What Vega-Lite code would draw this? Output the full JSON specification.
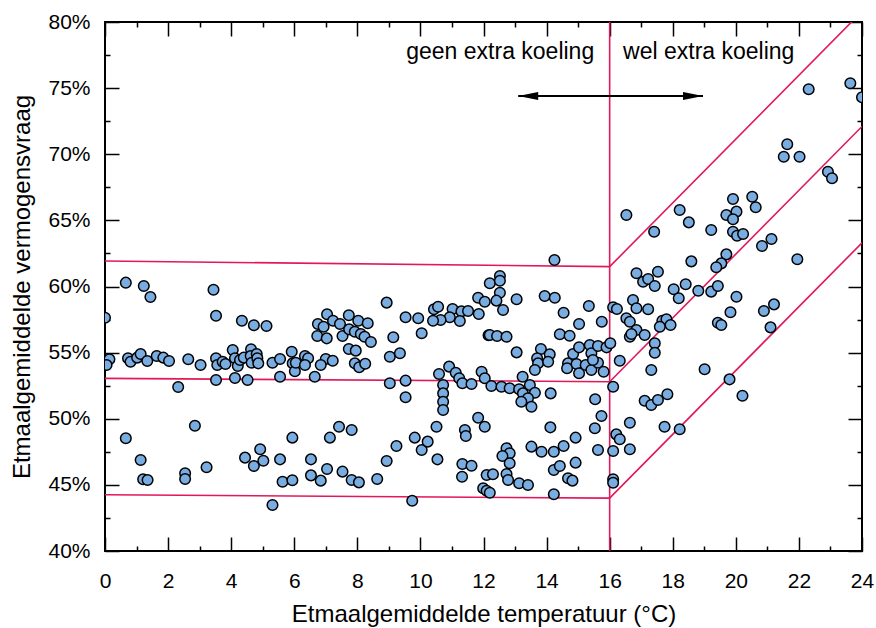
{
  "$schema": "https://vega.github.io/schema/vega-lite/v6.json",
  "width": 757,
  "height": 529,
  "autosize": {"type": "none"},
  "padding": {"left": 105, "top": 22, "right": 14, "bottom": 77},
  "background": "white",
  "config": {
    "view": {"stroke": "black", "strokeWidth": 2},
    "font": "Liberation Sans",
    "axis": {
      "grid": false, "domain": false,
      "labelFont": "Liberation Sans", "titleFont": "Liberation Sans",
      "labelColor": "black", "titleColor": "black", "tickColor": "black",
      "tickWidth": 1.5, "titleFontWeight": "normal",
      "labelFontSize": 21, "titleFontSize": 24
    }
  },
  "datasets": {
    "punten": [
      {"t":0.66,"v":60.29},{"t":1.23,"v":60.04},{"t":1.44,"v":59.21},{"t":3.44,"v":59.76},{"t":3.52,"v":57.79},
      {"t":4.34,"v":57.41},{"t":4.72,"v":57.07},{"t":5.12,"v":57.01},{"t":0.0,"v":57.64},{"t":0.14,"v":54.5},
      {"t":0.05,"v":54.06},{"t":0.73,"v":54.57},{"t":0.81,"v":54.31},{"t":1.02,"v":54.62},{"t":1.13,"v":54.9},
      {"t":1.34,"v":54.37},{"t":1.64,"v":54.74},{"t":1.85,"v":54.62},{"t":2.03,"v":54.37},{"t":2.64,"v":54.5},
      {"t":3.03,"v":54.06},{"t":3.52,"v":54.57},{"t":3.56,"v":54.06},{"t":3.73,"v":54.31},{"t":3.82,"v":54.14},
      {"t":4.05,"v":55.2},{"t":4.12,"v":54.57},{"t":4.21,"v":53.99},{"t":4.28,"v":54.44},{"t":4.4,"v":54.62},
      {"t":4.63,"v":55.25},{"t":4.62,"v":54.74},{"t":4.65,"v":54.24},{"t":4.81,"v":54.9},{"t":4.83,"v":54.57},
      {"t":4.86,"v":54.19},{"t":5.31,"v":54.24},{"t":5.55,"v":54.52},{"t":5.92,"v":55.07},{"t":5.95,"v":54.19},
      {"t":6.02,"v":53.59},{"t":6.05,"v":54.24},{"t":3.52,"v":52.93},{"t":4.12,"v":53.08},{"t":4.52,"v":52.93},
      {"t":5.55,"v":53.18},{"t":2.32,"v":52.4},{"t":2.85,"v":49.47},{"t":0.66,"v":48.52},{"t":1.13,"v":46.88},
      {"t":1.21,"v":45.42},{"t":1.35,"v":45.37},{"t":2.54,"v":45.88},{"t":2.54,"v":45.45},{"t":3.22,"v":46.33},
      {"t":4.44,"v":47.06},{"t":4.92,"v":47.69},{"t":4.72,"v":46.43},{"t":5.02,"v":46.83},{"t":5.55,"v":46.93},
      {"t":5.94,"v":48.57},{"t":5.63,"v":45.24},{"t":5.94,"v":45.35},{"t":5.31,"v":43.48},{"t":8.93,"v":58.78},
      {"t":11.83,"v":59.15},{"t":12.04,"v":58.85},{"t":12.2,"v":60.24},{"t":10.43,"v":58.28},{"t":10.56,"v":58.47},
      {"t":11.02,"v":58.3},{"t":11.3,"v":58.12},{"t":11.51,"v":58.15},{"t":11.85,"v":57.92},{"t":11.25,"v":57.39},
      {"t":10.93,"v":57.67},{"t":10.64,"v":57.47},{"t":10.4,"v":57.41},{"t":9.53,"v":57.67},{"t":9.93,"v":57.6},
      {"t":10.04,"v":56.46},{"t":9.14,"v":56.16},{"t":12.16,"v":56.31},{"t":9.03,"v":54.69},{"t":9.35,"v":54.95},
      {"t":6.75,"v":57.16},{"t":6.93,"v":56.96},{"t":7.04,"v":57.9},{"t":7.23,"v":57.41},{"t":7.45,"v":57.16},
      {"t":7.73,"v":57.82},{"t":8.03,"v":57.41},{"t":8.33,"v":57.22},{"t":6.73,"v":56.26},{"t":7.03,"v":56.08},
      {"t":7.53,"v":56.26},{"t":7.74,"v":56.76},{"t":7.92,"v":56.58},{"t":8.11,"v":56.41},{"t":8.23,"v":56.2},
      {"t":8.43,"v":55.8},{"t":7.73,"v":55.27},{"t":7.95,"v":55.15},{"t":7.92,"v":54.19},{"t":8.06,"v":53.89},
      {"t":8.25,"v":54.16},{"t":7.0,"v":54.52},{"t":7.22,"v":54.39},{"t":6.84,"v":54.06},{"t":6.65,"v":53.18},
      {"t":6.34,"v":54.74},{"t":6.44,"v":54.57},{"t":6.34,"v":54.06},{"t":9.03,"v":52.68},{"t":9.53,"v":52.88},
      {"t":9.53,"v":51.62},{"t":10.59,"v":53.38},{"t":10.91,"v":53.94},{"t":11.12,"v":53.48},{"t":11.23,"v":53.06},
      {"t":11.33,"v":52.68},{"t":11.62,"v":52.63},{"t":11.94,"v":53.56},{"t":12.04,"v":53.06},{"t":10.72,"v":52.55},
      {"t":10.72,"v":51.92},{"t":10.72,"v":51.29},{"t":10.72,"v":50.66},{"t":11.83,"v":50.08},{"t":12.04,"v":49.4},
      {"t":7.42,"v":49.4},{"t":7.82,"v":49.15},{"t":10.51,"v":49.4},{"t":11.41,"v":49.15},{"t":6.53,"v":46.93},
      {"t":6.53,"v":45.72},{"t":6.84,"v":45.32},{"t":7.04,"v":46.2},{"t":7.13,"v":48.57},{"t":7.53,"v":46.0},
      {"t":7.82,"v":45.37},{"t":8.05,"v":45.19},{"t":8.63,"v":45.44},{"t":8.93,"v":46.81},{"t":9.24,"v":47.94},
      {"t":9.82,"v":48.57},{"t":10.04,"v":47.64},{"t":10.23,"v":48.27},{"t":10.54,"v":46.93},{"t":9.74,"v":43.8},
      {"t":11.44,"v":48.7},{"t":11.33,"v":46.58},{"t":11.62,"v":46.45},{"t":11.32,"v":45.62},{"t":14.25,"v":62.0},
      {"t":17.41,"v":64.14},{"t":12.52,"v":60.79},{"t":12.52,"v":60.44},{"t":12.52,"v":59.53},{"t":12.41,"v":58.93},
      {"t":12.62,"v":58.22},{"t":13.05,"v":59.03},{"t":13.94,"v":59.28},{"t":14.26,"v":59.15},{"t":14.54,"v":58.02},
      {"t":15.34,"v":58.53},{"t":15.03,"v":57.16},{"t":15.75,"v":57.34},{"t":16.11,"v":58.43},{"t":16.23,"v":58.3},
      {"t":12.2,"v":56.33},{"t":12.43,"v":56.26},{"t":12.73,"v":56.2},{"t":13.05,"v":55.02},{"t":14.42,"v":56.39},
      {"t":14.73,"v":56.28},{"t":13.82,"v":55.27},{"t":14.1,"v":54.87},{"t":13.7,"v":54.57},{"t":13.73,"v":54.19},
      {"t":14.05,"v":54.31},{"t":13.63,"v":53.69},{"t":14.84,"v":54.9},{"t":15.03,"v":55.4},{"t":15.37,"v":55.58},
      {"t":15.42,"v":54.95},{"t":15.63,"v":55.5},{"t":15.9,"v":55.4},{"t":16.02,"v":55.71},{"t":14.68,"v":54.19},
      {"t":14.65,"v":53.82},{"t":14.95,"v":54.14},{"t":15.03,"v":53.44},{"t":15.24,"v":54.06},{"t":15.42,"v":53.69},
      {"t":15.63,"v":54.24},{"t":15.81,"v":53.56},{"t":15.47,"v":54.44},{"t":12.25,"v":52.48},{"t":12.57,"v":52.42},
      {"t":12.83,"v":52.3},{"t":13.24,"v":53.18},{"t":13.13,"v":52.23},{"t":13.47,"v":52.55},{"t":13.25,"v":51.92},
      {"t":13.63,"v":51.97},{"t":13.41,"v":51.55},{"t":13.2,"v":51.29},{"t":13.52,"v":50.91},{"t":14.13,"v":51.92},
      {"t":16.32,"v":54.39},{"t":16.11,"v":52.42},{"t":15.54,"v":51.47},{"t":15.74,"v":50.21},{"t":14.12,"v":49.35},
      {"t":15.53,"v":49.28},{"t":16.85,"v":61.0},{"t":17.06,"v":60.36},{"t":17.22,"v":60.57},{"t":17.53,"v":61.12},
      {"t":17.43,"v":60.04},{"t":18.03,"v":59.79},{"t":18.19,"v":59.11},{"t":16.74,"v":58.98},{"t":16.85,"v":58.35},
      {"t":17.22,"v":58.28},{"t":16.53,"v":57.6},{"t":16.64,"v":57.34},{"t":16.85,"v":56.71},{"t":16.64,"v":56.2},
      {"t":17.11,"v":56.33},{"t":17.43,"v":55.71},{"t":17.43,"v":54.99},{"t":17.67,"v":57.41},{"t":17.8,"v":57.52},
      {"t":17.93,"v":57.09},{"t":17.59,"v":56.96},{"t":17.32,"v":53.69},{"t":16.64,"v":49.7},{"t":17.11,"v":51.36},
      {"t":17.32,"v":51.04},{"t":17.53,"v":51.42},{"t":17.83,"v":51.85},{"t":17.74,"v":49.4},{"t":16.69,"v":56.41},
      {"t":14.92,"v":48.57},{"t":13.52,"v":47.89},{"t":13.84,"v":47.51},{"t":14.23,"v":47.51},{"t":14.54,"v":47.94},
      {"t":12.73,"v":47.77},{"t":12.83,"v":47.39},{"t":12.6,"v":47.18},{"t":12.83,"v":46.63},{"t":15.63,"v":47.64},
      {"t":16.11,"v":47.56},{"t":16.21,"v":48.82},{"t":16.32,"v":48.45},{"t":16.64,"v":47.69},{"t":14.23,"v":46.12},
      {"t":14.42,"v":46.43},{"t":14.92,"v":46.68},{"t":12.1,"v":45.75},{"t":12.3,"v":45.8},{"t":12.73,"v":45.82},
      {"t":12.78,"v":45.37},{"t":13.13,"v":45.12},{"t":13.41,"v":44.99},{"t":11.99,"v":44.74},{"t":12.1,"v":44.56},
      {"t":12.2,"v":44.41},{"t":14.68,"v":45.5},{"t":14.82,"v":45.32},{"t":14.23,"v":44.29},{"t":16.11,"v":45.42},
      {"t":16.11,"v":45.16},{"t":22.31,"v":74.91},{"t":23.63,"v":75.37},{"t":24.0,"v":74.31},{"t":21.63,"v":70.75},
      {"t":21.52,"v":69.81},{"t":22.02,"v":69.81},{"t":22.92,"v":68.68},{"t":23.05,"v":68.18},{"t":16.53,"v":65.41},
      {"t":18.22,"v":65.78},{"t":18.51,"v":64.85},{"t":19.22,"v":64.27},{"t":19.91,"v":66.62},{"t":20.52,"v":66.79},
      {"t":20.63,"v":65.99},{"t":19.7,"v":65.41},{"t":20.02,"v":65.66},{"t":19.91,"v":65.08},{"t":19.91,"v":64.14},
      {"t":20.04,"v":63.84},{"t":20.23,"v":63.97},{"t":20.83,"v":63.06},{"t":21.13,"v":63.59},{"t":19.7,"v":62.43},
      {"t":18.59,"v":61.9},{"t":21.95,"v":62.06},{"t":19.54,"v":61.75},{"t":19.38,"v":61.45},{"t":18.41,"v":60.17},
      {"t":18.81,"v":59.68},{"t":19.22,"v":59.61},{"t":19.43,"v":60.04},{"t":20.02,"v":59.23},{"t":19.83,"v":58.05},
      {"t":19.43,"v":57.26},{"t":19.54,"v":57.09},{"t":20.89,"v":58.15},{"t":21.21,"v":58.65},{"t":21.1,"v":56.91},
      {"t":19.01,"v":53.74},{"t":19.8,"v":52.98},{"t":20.21,"v":51.74},{"t":18.22,"v":49.2}
    ],
    "lijnen": [
      {"lijn":"boven","t":0,"v":61.93},{"lijn":"boven","t":16,"v":61.5},{"lijn":"boven","t":24,"v":80.8},
      {"lijn":"midden","t":0,"v":53.05},{"lijn":"midden","t":16,"v":52.8},{"lijn":"midden","t":24,"v":72.1},
      {"lijn":"onder","t":0,"v":44.25},{"lijn":"onder","t":16,"v":44.0},{"lijn":"onder","t":24,"v":63.3}
    ],
    "grens": [{"t":16,"van":40,"tot":80}],
    "pijl": [{"t1":13.1,"t2":18.96,"v":74.4}],
    "teksten": [
      {"t":12.53,"v":77.2,"tekst":"geen extra koeling"},
      {"t":19.14,"v":77.2,"tekst":"wel extra koeling"}
    ]
  },
  "resolve": {"axis": {"x": "independent", "y": "independent"}},
  "layer": [
    {
      "data": {"name": "lijnen"},
      "mark": {"type": "line", "color": "#E2185B", "strokeWidth": 1.6, "clip": true},
      "encoding": {
        "x": {"field": "t", "type": "quantitative", "scale": {"domain": [0, 24], "nice": false, "zero": false},
          "axis": {"orient": "bottom", "values": [0,2,4,6,8,10,12,14,16,18,20,22,24], "ticks": false, "domain": false,
            "labelPadding": 19, "labelFlush": false, "labelOverlap": false,
            "title": "Etmaalgemiddelde temperatuur (°C)", "titlePadding": 11}},
        "y": {"field": "v", "type": "quantitative", "scale": {"domain": [40, 80], "nice": false, "zero": false},
          "axis": {"orient": "left", "values": [40,45,50,55,60,65,70,75,80], "ticks": false, "domain": false,
            "labelPadding": 15, "labelOverlap": false, "labelFlush": false, "labelExpr": "datum.value + '%'",
            "title": "Etmaalgemiddelde vermogensvraag", "titlePadding": 13}},
        "detail": {"field": "lijn", "type": "nominal"}
      }
    },
    {
      "data": {"name": "grens"},
      "mark": {"type": "rule", "color": "#E2185B", "strokeWidth": 1.6},
      "encoding": {
        "x": {"field": "t", "type": "quantitative", "scale": {"domain": [0, 24], "nice": false, "zero": false},
          "axis": {"orient": "bottom", "values": [0,2,4,6,8,10,12,14,16,18,20,22,24], "labels": false, "domain": false, "tickSize": -14, "title": null}},
        "y": {"field": "van", "type": "quantitative", "scale": {"domain": [40, 80], "nice": false, "zero": false},
          "axis": {"orient": "left", "values": [40,45,50,55,60,65,70,75,80], "labels": false, "domain": false, "tickSize": -14, "title": null}},
        "y2": {"field": "tot"}
      }
    },
    {
      "data": {"name": "pijl"},
      "mark": {"type": "rule", "color": "black", "strokeWidth": 2},
      "encoding": {
        "x": {"field": "t1", "type": "quantitative", "scale": {"domain": [0, 24], "nice": false, "zero": false},
          "axis": {"orient": "bottom", "values": [1,3,5,7,9,11,13,15,17,19,21,23], "labels": false, "domain": false, "tickSize": -5, "title": null}},
        "x2": {"field": "t2"},
        "y": {"field": "v", "type": "quantitative", "scale": {"domain": [40, 80], "nice": false, "zero": false},
          "axis": {"orient": "left", "values": [42.5,47.5,52.5,57.5,62.5,67.5,72.5,77.5], "labels": false, "domain": false, "tickSize": -5, "title": null}}
      }
    },
    {
      "data": {"name": "pijl"},
      "mark": {"type": "point", "shape": "M0,0L2,-0.4L2,0.4Z", "filled": true, "color": "black", "opacity": 1, "size": 400},
      "encoding": {
        "x": {"field": "t1", "type": "quantitative", "scale": {"domain": [0, 24], "nice": false, "zero": false},
          "axis": {"orient": "top", "values": [0,2,4,6,8,10,12,14,16,18,20,22,24], "labels": false, "domain": false, "tickSize": -14, "title": null}},
        "y": {"field": "v", "type": "quantitative", "scale": {"domain": [40, 80], "nice": false, "zero": false},
          "axis": {"orient": "right", "values": [40,45,50,55,60,65,70,75,80], "labels": false, "domain": false, "tickSize": -14, "title": null}}
      }
    },
    {
      "data": {"name": "pijl"},
      "mark": {"type": "point", "shape": "M0,0L-2,-0.4L-2,0.4Z", "filled": true, "color": "black", "opacity": 1, "size": 400},
      "encoding": {
        "x": {"field": "t2", "type": "quantitative", "scale": {"domain": [0, 24], "nice": false, "zero": false},
          "axis": {"orient": "top", "values": [1,3,5,7,9,11,13,15,17,19,21,23], "labels": false, "domain": false, "tickSize": -5, "title": null}},
        "y": {"field": "v", "type": "quantitative", "scale": {"domain": [40, 80], "nice": false, "zero": false},
          "axis": {"orient": "right", "values": [42.5,47.5,52.5,57.5,62.5,67.5,72.5,77.5], "labels": false, "domain": false, "tickSize": -5, "title": null}}
      }
    },
    {
      "data": {"name": "teksten"},
      "mark": {"type": "text", "font": "Liberation Sans", "fontSize": 23, "color": "black", "align": "center", "baseline": "alphabetic"},
      "encoding": {
        "x": {"field": "t", "type": "quantitative", "scale": {"domain": [0, 24], "nice": false, "zero": false}, "axis": null},
        "y": {"field": "v", "type": "quantitative", "scale": {"domain": [40, 80], "nice": false, "zero": false}, "axis": null},
        "text": {"field": "tekst", "type": "nominal"}
      }
    },
    {
      "data": {"name": "punten"},
      "mark": {"type": "circle", "fill": "#79ADE1", "stroke": "black", "strokeWidth": 1.5, "size": 112, "opacity": 1, "fillOpacity": 1, "clip": true},
      "encoding": {
        "x": {"field": "t", "type": "quantitative", "scale": {"domain": [0, 24], "nice": false, "zero": false}, "axis": null},
        "y": {"field": "v", "type": "quantitative", "scale": {"domain": [40, 80], "nice": false, "zero": false}, "axis": null}
      }
    }
  ]
}
